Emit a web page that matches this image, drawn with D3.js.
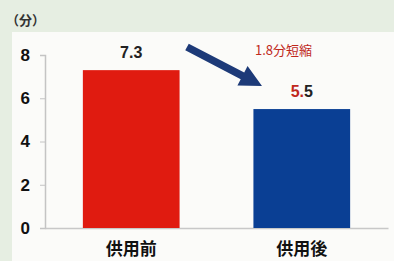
<!DOCTYPE html>
<html><head><meta charset="utf-8">
<script src="https://cdn.jsdelivr.net/npm/d3@7/dist/d3.min.js"></script>
<style>body{margin:0;background:#e6eee2;}svg{display:block;}</style>
</head><body>
<script>
const categories = ["供用前", "供用後"];
const values = [7.3, 5.5];
const valueLabels = ["7.3", "5.5"];
const yTicks = [0, 2, 4, 6, 8];
const unitLabel = "（分）";
const noteLabel = "1.8分短縮";
const colors = ["#e01b10", "#0a3f94"];

const W = 394, H = 261;
const svg = d3.select("body").append("svg").attr("width", W).attr("height", H);
const font = "'Noto Sans CJK JP','Liberation Sans',sans-serif";

// backgrounds
svg.append("rect").attr("width", W).attr("height", H).attr("fill", "#e6eee2");
svg.append("rect").attr("x", 12).attr("y", 32).attr("width", W - 12).attr("height", H - 32).attr("fill", "#fbfbf9");

const y = d3.scaleLinear().domain([0, 8]).range([228, 55]);
const x = d3.scaleBand().domain(categories).range([45, 388]).paddingInner(0.433).paddingOuter(0.222);

// y axis
const yAxis = svg.append("g").attr("transform", "translate(45,0)")
  .call(d3.axisLeft(y).tickValues(yTicks).tickSize(5).tickPadding(10));
yAxis.select(".domain").attr("stroke", "#c4c4c4").attr("stroke-width", 1.5);
yAxis.selectAll(".tick line").attr("stroke", "#c4c4c4");
yAxis.selectAll(".tick text").attr("font-family", "'Liberation Sans',Arial,sans-serif")
  .attr("font-size", 17).attr("font-weight", "bold").attr("fill", "#111");

// x axis
const xAxis = svg.append("g").attr("transform", "translate(0,228)")
  .call(d3.axisBottom(x).tickSize(0).tickPadding(15));
xAxis.select(".domain").attr("stroke", "#c8c8c8").attr("stroke-width", 1.5);
xAxis.selectAll(".tick text").attr("font-family", font)
  .attr("font-size", 17).attr("font-weight", "bold").attr("fill", "#111");

// bars
svg.selectAll("rect.bar").data(values).enter().append("rect")
  .attr("class", "bar")
  .attr("x", (d, i) => x(categories[i]))
  .attr("width", x.bandwidth())
  .attr("y", d => y(d))
  .attr("height", d => y(0) - y(d))
  .attr("fill", (d, i) => colors[i]);

// value labels
svg.append("text").attr("x", x(categories[0]) + x.bandwidth() / 2).attr("y", y(values[0]) - 12)
  .attr("text-anchor", "middle").attr("font-family", "'Liberation Sans',Arial,sans-serif")
  .attr("font-size", 16).attr("font-weight", "bold").attr("fill", "#222").text(valueLabels[0]);
const t2 = svg.append("text").attr("x", x(categories[1]) + x.bandwidth() / 2).attr("y", y(values[1]) - 12)
  .attr("text-anchor", "middle").attr("font-family", "'Liberation Sans',Arial,sans-serif")
  .attr("font-size", 16).attr("font-weight", "bold");
t2.append("tspan").attr("fill", "#c0281c").text(valueLabels[1].slice(0, 2));
t2.append("tspan").attr("fill", "#222").text(valueLabels[1].slice(2));

// unit label
svg.append("text").attr("x", 6).attr("y", 25).attr("font-family", font)
  .attr("font-size", 13).attr("font-weight", "bold").attr("fill", "#333").text(unitLabel);

// note
svg.append("text").attr("x", 255).attr("y", 55).attr("font-family", font)
  .attr("font-size", 13).attr("fill", "#c0281c").text(noteLabel);

// arrow
const ax0 = 187, ay0 = 47, ax1 = 262, ay1 = 86;
const ang = Math.atan2(ay1 - ay0, ax1 - ax0);
const L = Math.hypot(ax1 - ax0, ay1 - ay0);
const hl = 22, hw = 11, sw = 3.8;
const pts = [[0, -sw], [L - hl, -sw], [L - hl, -hw], [L, 0], [L - hl, hw], [L - hl, sw], [0, sw]];
svg.append("polygon")
  .attr("points", pts.map(p => p.join(",")).join(" "))
  .attr("transform", `translate(${ax0},${ay0}) rotate(${ang * 180 / Math.PI})`)
  .attr("fill", "#1d3a78");
</script>
</body></html>
